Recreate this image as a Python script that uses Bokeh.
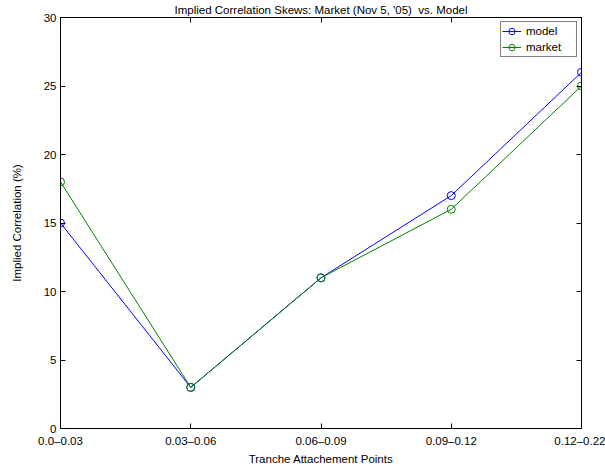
from bokeh.plotting import figure
from bokeh.models import FixedTicker, LinearAxis, Legend, LegendItem, Range1d
from bokeh.embed import file_html
from bokeh.resources import INLINE

categories = ["0.0\u20130.03", "0.03\u20130.06", "0.06\u20130.09", "0.09\u20130.12", "0.12\u20130.22"]
model = [15, 3, 11, 17, 26]
market = [18, 3, 11, 16, 25]
y_ticks = [0, 5, 10, 15, 20, 25, 30]

x = list(range(len(categories)))
FONT = "Liberation Sans"
FS = "11.5px"

p = figure(frame_width=521, frame_height=411, output_backend="svg", toolbar_location=None,
           min_border_left=60, min_border_right=24, min_border_top=17, min_border_bottom=38,
           x_range=Range1d(0, len(categories) - 1), y_range=Range1d(0, 30))
p.title.text = "Implied Correlation Skews: Market (Nov 5, '05) \u00a0vs. Model"
p.title.align = "center"
p.title.text_font = FONT
p.title.text_font_size = FS
p.title.text_font_style = "normal"
p.title.text_color = "black"
p.title.text_line_height = 1.0
p.title.standoff = 3
p.title.offset = 0

p.xgrid.visible = False
p.ygrid.visible = False
p.outline_line_color = "black"

bottom_ax = p.below[0]
left_ax = p.left[0]

top_ax = LinearAxis(ticker=FixedTicker(ticks=x))
top_ax.major_label_overrides = {i: "" for i in x}
right_ax = LinearAxis(ticker=FixedTicker(ticks=y_ticks))
right_ax.major_label_overrides = {t: "" for t in y_ticks}
for ax in [top_ax, right_ax]:
    ax.major_label_standoff = 0
p.add_layout(top_ax, "above")
p.add_layout(right_ax, "right")

bottom_ax.ticker = FixedTicker(ticks=x)
bottom_ax.major_label_overrides = {i: c for i, c in zip(x, categories)}
left_ax.ticker = FixedTicker(ticks=y_ticks)
bottom_ax.axis_label = "Tranche Attachement Points"
left_ax.axis_label = "Implied Correlation (%)"
for ax in [bottom_ax, left_ax, top_ax, right_ax]:
    ax.major_tick_in = 5
    ax.major_tick_out = 0
    ax.minor_tick_line_color = None
    ax.axis_line_color = "black"
    ax.major_tick_line_color = "black"
    ax.major_label_text_font = FONT
    ax.major_label_text_color = "black"
    ax.major_label_text_font_size = FS
    ax.axis_label_text_font = FONT
    ax.axis_label_text_color = "black"
    ax.axis_label_text_font_style = "normal"
    ax.axis_label_text_font_size = FS
left_ax.major_label_standoff = 4
left_ax.axis_label_standoff = 18
bottom_ax.major_label_standoff = 6
bottom_ax.axis_label_standoff = 3

r1 = p.line(x, model, line_color="blue", line_width=1)
c1 = p.scatter(x, model, marker="circle", size=8, line_color="blue", fill_color=None)
r2 = p.line(x, market, line_color="green", line_width=1)
c2 = p.scatter(x, market, marker="circle", size=8, line_color="green", fill_color=None)

legend = Legend(items=[LegendItem(label="model", renderers=[r1, c1]),
                       LegendItem(label="market", renderers=[r2, c2])],
                location="top_right")
legend.border_line_color = "black"
legend.border_line_width = 1
legend.label_text_font = FONT
legend.label_text_font_size = FS
legend.label_text_color = "black"
legend.glyph_width = 19
legend.glyph_height = 16
legend.label_height = 16
legend.label_width = 49
legend.spacing = -5
legend.padding = 1
legend.margin = 4
legend.label_standoff = 5
legend.background_fill_alpha = 1
p.add_layout(legend)

out = file_html(p, INLINE)
open("out.html", "w").write(out)
